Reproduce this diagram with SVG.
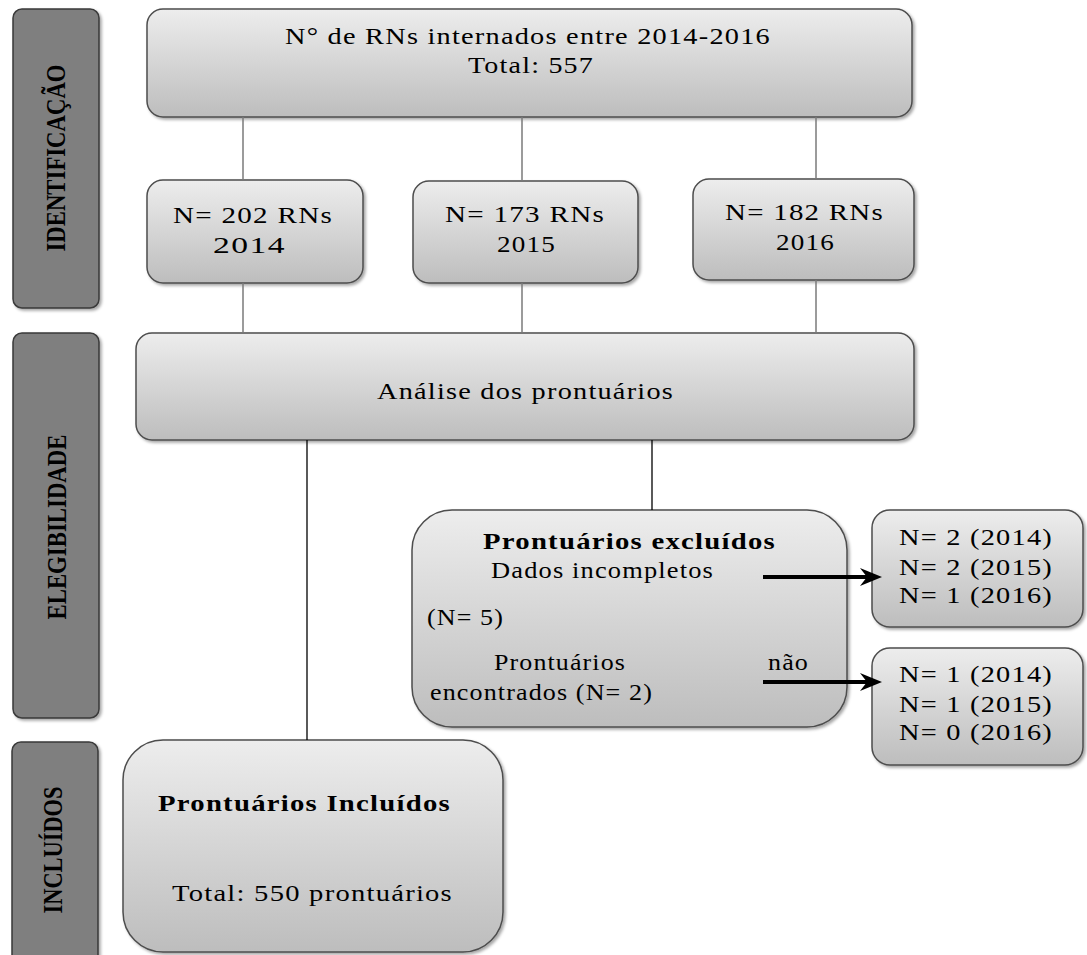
<svg xmlns="http://www.w3.org/2000/svg" width="1087" height="955" viewBox="0 0 1087 955">
<style>
.box{fill:url(#g);stroke:#4d4d4d;stroke-width:1.5;filter:url(#sh)}
.side{fill:#7f7f7f;stroke:#3a3a3a;stroke-width:1.5;filter:url(#sh)}
.t{font-family:"Liberation Serif","Times New Roman",serif;font-size:23px;letter-spacing:1px;fill:#000}
.b{font-weight:bold}
.st{font-family:"Liberation Serif","Times New Roman",serif;font-size:27px;font-weight:bold;fill:#000}
.gl{stroke:#7a7a7a;stroke-width:1.5;fill:none}
.bl{stroke:#000;stroke-width:1.3;fill:none}
.ar{stroke:#000;stroke-width:4;fill:none;marker-end:url(#ah)}
</style>
<defs>
<linearGradient id="g" x1="0" y1="0" x2="0" y2="1">
<stop offset="0" stop-color="#ededed"/>
<stop offset="1" stop-color="#bdbdbd"/>
</linearGradient>
<filter id="sh" x="-10%" y="-10%" width="120%" height="120%">
<feDropShadow dx="2" dy="2" stdDeviation="1.5" flood-color="#000" flood-opacity="0.35"/>
</filter>
<marker id="ah" viewBox="0 0 22 18" refX="12" refY="9" markerWidth="22" markerHeight="18" markerUnits="userSpaceOnUse" orient="auto">
<path d="M0,0 L22,9 L0,18 L7,9 z" fill="#000"/>
</marker>
</defs>

<g id="side-identificacao">
<rect class="side" x="13" y="9" width="86" height="299" rx="9"/>
<text class="st" transform="translate(65,158) rotate(-90)" text-anchor="middle" textLength="187" lengthAdjust="spacingAndGlyphs">IDENTIFICAÇÃO</text>
</g>
<g id="side-elegibilidade">
<rect class="side" x="13" y="333" width="86" height="385" rx="9"/>
<text class="st" transform="translate(66,527) rotate(-90)" text-anchor="middle" textLength="185" lengthAdjust="spacingAndGlyphs">ELEGIBILIDADE</text>
</g>
<g id="side-incluidos">
<rect class="side" x="12" y="742" width="86" height="225" rx="9"/>
<text class="st" transform="translate(62,850) rotate(-90)" text-anchor="middle" textLength="127" lengthAdjust="spacingAndGlyphs">INCLUÍDOS</text>
</g>

<g id="total">
<rect class="box" x="147" y="9" width="765" height="108" rx="16"/>
<text class="t" x="285" y="44" textLength="486" lengthAdjust="spacingAndGlyphs">N° de RNs internados entre 2014-2016</text>
<text class="t" x="468" y="73" textLength="126" lengthAdjust="spacingAndGlyphs">Total: 557</text>
</g>

<g id="y2014">
<rect class="box" x="147" y="180" width="216" height="103" rx="16"/>
<text class="t" x="173" y="223" textLength="160" lengthAdjust="spacingAndGlyphs">N= 202 RNs</text>
<text class="t" x="213" y="253" textLength="73" lengthAdjust="spacingAndGlyphs">2014</text>
</g>
<g id="y2015">
<rect class="box" x="413" y="181" width="225" height="102" rx="16"/>
<text class="t" x="445" y="222" textLength="160" lengthAdjust="spacingAndGlyphs">N= 173 RNs</text>
<text class="t" x="497" y="252" textLength="59" lengthAdjust="spacingAndGlyphs">2015</text>
</g>
<g id="y2016">
<rect class="box" x="693" y="179" width="221" height="101" rx="16"/>
<text class="t" x="725" y="220" textLength="159" lengthAdjust="spacingAndGlyphs">N= 182 RNs</text>
<text class="t" x="776" y="250" textLength="59" lengthAdjust="spacingAndGlyphs">2016</text>
</g>

<g id="analise">
<rect class="box" x="136" y="333" width="778" height="107" rx="16"/>
<text class="t" x="377" y="399" textLength="297" lengthAdjust="spacingAndGlyphs">Análise dos prontuários</text>
</g>

<g id="excluidos">
<rect class="box" x="412" y="510" width="435" height="217" rx="40"/>
<text class="t b" x="483" y="549" textLength="293" lengthAdjust="spacingAndGlyphs">Prontuários excluídos</text>
<text class="t" x="491" y="578" textLength="223" lengthAdjust="spacingAndGlyphs">Dados incompletos</text>
<text class="t" x="427" y="625" textLength="77" lengthAdjust="spacingAndGlyphs">(N= 5)</text>
<text class="t" x="494" y="670" textLength="132" lengthAdjust="spacingAndGlyphs">Prontuários</text>
<text class="t" x="768" y="670" textLength="41" lengthAdjust="spacingAndGlyphs">não</text>
<text class="t" x="430" y="700" textLength="223" lengthAdjust="spacingAndGlyphs">encontrados (N= 2)</text>
</g>

<g id="incompletos-anos">
<rect class="box" x="872" y="510" width="211" height="117" rx="18"/>
<text class="t" x="899" y="545" textLength="154" lengthAdjust="spacingAndGlyphs">N= 2 (2014)</text>
<text class="t" x="899" y="575" textLength="154" lengthAdjust="spacingAndGlyphs">N= 2 (2015)</text>
<text class="t" x="899" y="603" textLength="154" lengthAdjust="spacingAndGlyphs">N= 1 (2016)</text>
</g>
<g id="naoencontrados-anos">
<rect class="box" x="872" y="648" width="211" height="117" rx="18"/>
<text class="t" x="899" y="682" textLength="154" lengthAdjust="spacingAndGlyphs">N= 1 (2014)</text>
<text class="t" x="899" y="712" textLength="154" lengthAdjust="spacingAndGlyphs">N= 1 (2015)</text>
<text class="t" x="899" y="740" textLength="154" lengthAdjust="spacingAndGlyphs">N= 0 (2016)</text>
</g>

<g id="incluidos">
<rect class="box" x="123" y="740" width="380" height="212" rx="40"/>
<text class="t b" x="158" y="811" textLength="293" lengthAdjust="spacingAndGlyphs">Prontuários Incluídos</text>
<text class="t" x="172" y="901" textLength="281" lengthAdjust="spacingAndGlyphs">Total: 550 prontuários</text>
</g>

<g id="connectors">
<line class="gl" x1="243" y1="117" x2="243" y2="180"/>
<line class="gl" x1="522" y1="117" x2="522" y2="181"/>
<line class="gl" x1="816" y1="117" x2="816" y2="179"/>
<line class="gl" x1="243" y1="283" x2="243" y2="333"/>
<line class="gl" x1="522" y1="283" x2="522" y2="333"/>
<line class="gl" x1="816" y1="280" x2="816" y2="333"/>
<line class="bl" x1="307" y1="440" x2="307" y2="740"/>
<line class="bl" x1="652" y1="440" x2="652" y2="510"/>
<line class="ar" x1="763" y1="577" x2="872" y2="577"/>
<line class="ar" x1="763" y1="682" x2="872" y2="682"/>
</g>
</svg>
